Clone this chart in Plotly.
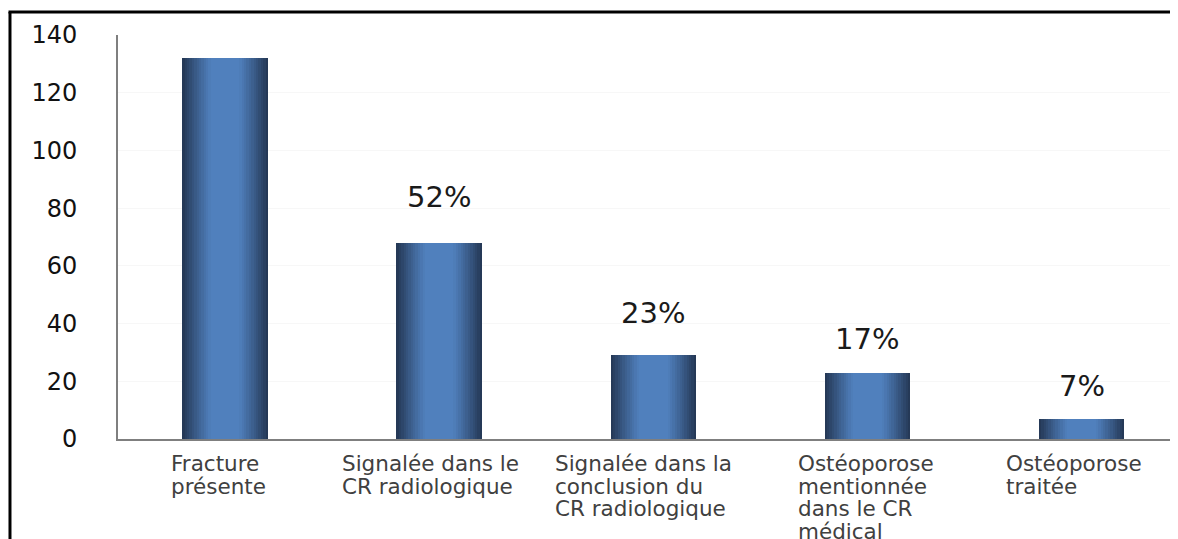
import plotly.graph_objects as go

categories = [
    "Fracture<br>présente",
    "Signalée dans le<br>CR radiologique",
    "Signalée dans la<br>conclusion du<br>CR radiologique",
    "Ostéoporose<br>mentionnée<br>dans le CR<br>médical",
    "Ostéoporose<br>traitée",
]
values = [132, 68, 29, 23, 7]
pct_labels = ["", "52%", "23%", "17%", "7%"]
y_ticks = [0, 20, 40, 60, 80, 100, 120, 140]

# style
pct_shift = [0, 46, 42, 34, 33]
cat_xshift = [-7, -9, -10, -1, -8]
BAR_W = 0.4
DARK = (0x25, 0x39, 0x57)
LIGHT = (0x50, 0x80, 0xbd)
N_LAYERS = 18

x_idx = list(range(len(categories)))

def lerp(c1, c2, t):
    return "rgb(%d,%d,%d)" % tuple(round(a + (b - a) * t) for a, b in zip(c1, c2))

fig = go.Figure()
for k in range(N_LAYERS):
    f = 1 - k / N_LAYERS
    t = max(0.0, min(1.0, (f - 0.35) / 0.65))
    col = lerp(LIGHT, DARK, t ** 1.1)
    fig.add_trace(go.Bar(
        x=x_idx, y=values, width=BAR_W * f,
        marker=dict(color=col, line=dict(width=0)),
        showlegend=False, hoverinfo="skip" if k else "y",
    ))

annotations = []
for i, (lab, v) in enumerate(zip(categories, values)):
    lines = lab.split("<br>")
    txt = "<br>".join("<span style='font-size:21.5px'>%s</span>" % ln for ln in lines)
    annotations.append(dict(
        x=i, y=0, xref="x", yref="y", text=txt, showarrow=False,
        xanchor="center", yanchor="top", align="left", yshift=-10,
        xshift=cat_xshift[i],
        font=dict(family="DejaVu Sans", size=17.4, color="#404040"),
    ))
    if pct_labels[i]:
        annotations.append(dict(
            x=i, y=v, xref="x", yref="y", text=pct_labels[i], showarrow=False,
            xanchor="center", yanchor="middle", yshift=pct_shift[i],
            font=dict(family="DejaVu Sans", size=29, color="#1a1a1a"),
        ))

shapes = [
    dict(type="line", xref="paper", yref="paper", x0=-0.1019, x1=-0.1019,
         y0=1.0569, y1=-0.30, line=dict(color="black", width=3)),
    dict(type="line", xref="paper", yref="paper", x0=-0.1033, x1=1.02,
         y0=1.0569, y1=1.0569, line=dict(color="black", width=3)),
]

fig.update_layout(
    width=1178, height=539,
    margin=dict(l=110, r=8, t=27, b=108),
    barmode="overlay", bargap=0,
    plot_bgcolor="white", paper_bgcolor="white",
    annotations=annotations, shapes=shapes,
    xaxis=dict(range=[-0.5, 4.45], showticklabels=False, showgrid=False,
               zeroline=False, showline=True, linecolor="#7f7f7f", linewidth=2,
               ticks=""),
    yaxis=dict(range=[0, 140], tickvals=y_ticks, showgrid=True,
               gridcolor="#f7f7f7", gridwidth=1, zeroline=False,
               showline=True, linecolor="#7f7f7f", linewidth=2, ticks="",
               ticklabelstandoff=34,
               tickfont=dict(family="DejaVu Sans", size=24, color="#111111")),
    font=dict(family="DejaVu Sans"),
)

fig.write_html("out.html")
